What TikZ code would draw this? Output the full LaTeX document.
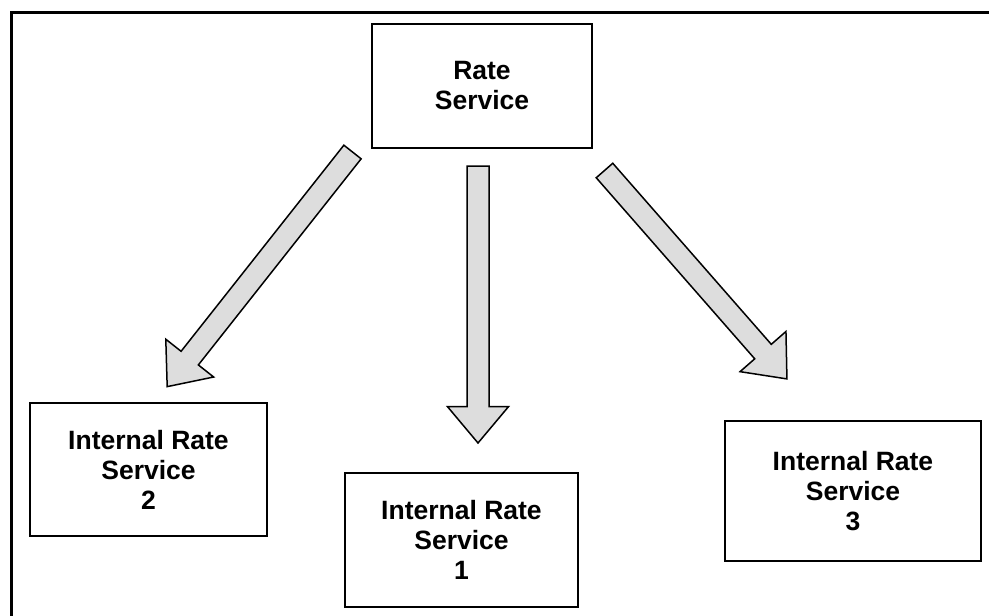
\documentclass[tikz,border=0pt]{standalone}
\usepackage{fontspec}
\setmainfont{Liberation Sans}
\usetikzlibrary{shapes.arrows,positioning}
\definecolor{arrowgray}{RGB}{221,221,221}

\tikzset{
    service/.style={rectangle,draw=black,line width=2.2pt,align=center,inner sep=0pt,
        font=\fontsize{26.5}{30}\selectfont\bfseries},
    bigarrow/.style={single arrow,draw=black,line width=1.5pt,fill=arrowgray,
        inner xsep=0pt,inner ysep=10.25pt,text height=0pt,text depth=0pt,text width=0pt,
        single arrow head extend=19.5pt,single arrow tip angle=80,anchor=tail,outer sep=0pt}
}

\begin{document}
\begin{tikzpicture}[x=1pt,y=-1pt]
        \useasboundingbox (0,0) rectangle (989,616);
        % Frame
        \draw[line width=3pt] (989,12) -- (11,12) -- (11,616);

        % Services
        \node[service,minimum width=220pt,minimum height=124pt] (rate) at (482,86) {Rate\\Service};
        \node[service,minimum width=237pt,minimum height=133pt] (internal2) at (148.5,469.5) {Internal Rate\\Service\\2};
        \node[service,minimum width=233pt,minimum height=134pt] (internal1) at (461.5,540) {Internal Rate\\Service\\1};
        \node[service,minimum width=256pt,minimum height=140pt] (internal3) at (853,491) {Internal Rate\\Service\\3};

        % Calls
        \node[bigarrow,minimum height=299pt,rotate=231.7] (call2) at (352.5,152) {};
        \node[bigarrow,minimum height=277pt,rotate=270] (call1) at (478,166) {};
        \node[bigarrow,minimum height=277pt,rotate=311.2] (call3) at (604.5,170.5) {};
    \end{tikzpicture}
\end{document}
